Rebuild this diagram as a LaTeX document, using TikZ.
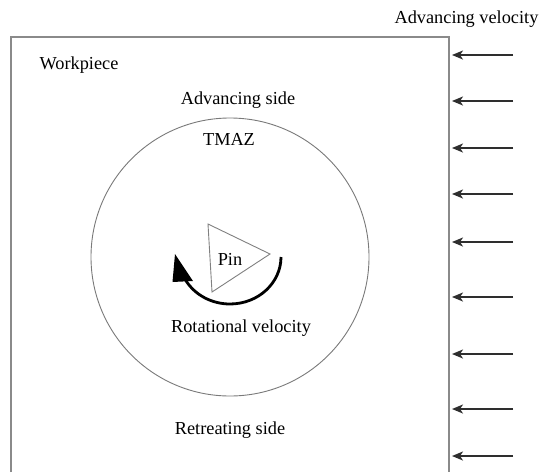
\documentclass[tikz,border=0pt]{standalone}
\usepackage{fontspec}
\setmainfont{Liberation Serif}
\usetikzlibrary{arrows.meta}
\definecolor{edgegray}{HTML}{8A8A8A}
\definecolor{circgray}{HTML}{7A7A7A}
\definecolor{arrowdark}{HTML}{2E2E2E}
\begin{document}
\begin{tikzpicture}[x=1pt,y=-1pt,
  lbl/.style={inner sep=0pt,anchor=base,font=\fontsize{18.3}{22}\selectfont},
  feed/.style={draw=arrowdark,line width=1.8pt,-{Stealth[length=11pt,width=9pt,inset=3pt]}},
  rot/.style={draw=black,line width=2.8pt}]
\useasboundingbox (0,0) rectangle (539,472);
\fill[white] (0,0) rectangle (539,472);
% workpiece (open at bottom, beyond the picture)
\coordinate (wbl) at (11,472);
\coordinate (wtl) at (11,37);
\coordinate (wtr) at (449,37);
\coordinate (wbr) at (449,472);
\draw[edgegray,line width=1.4pt] (wbl) -- (wtl) -- (wtr) -- (wbr);
% TMAZ circle
\node[draw=circgray,line width=0.9pt,circle,minimum size=278pt,inner sep=0pt] (tmazc) at (230,257) {};
% pin triangle
\coordinate (p1) at (208,224);
\coordinate (p2) at (270,254);
\coordinate (p3) at (212,292);
\draw[gray,line width=0.9pt,line join=miter] (p1) -- (p2) -- (p3) -- cycle;
% rotation arrow
\coordinate (rc) at (230,257);
\draw[rot] ([shift={(0:51 and 47)}]rc) arc[start angle=0,end angle=150,x radius=51,y radius=47];
\coordinate (h1) at (175,254);
\coordinate (h2) at (172.5,282);
\coordinate (h3) at (193,281);
\fill[black] (h1) -- (h2) -- (h3) -- cycle;
% texts
\node[lbl] (advvel) at (466.5,23) {Advancing velocity};
\node[lbl] (work) at (79,69) {Workpiece};
\node[lbl] (advside) at (238,104) {Advancing side};
\node[lbl] (tmaz) at (229,145) {TMAZ};
\node[lbl] (pin) at (230,265) {Pin};
\node[lbl] (rotvel) at (241,332) {Rotational velocity};
\node[lbl] (retside) at (230,434) {Retreating side};
% advancing velocity arrows
\foreach \i/\y in {1/55,2/101,3/148,4/194,5/242,6/297,7/354,8/409,9/456}{
  \coordinate (s\i) at (513,\y);
  \coordinate (e\i) at (452,\y);
  \draw[feed] (s\i) -- (e\i);
}
\end{tikzpicture}
\end{document}
